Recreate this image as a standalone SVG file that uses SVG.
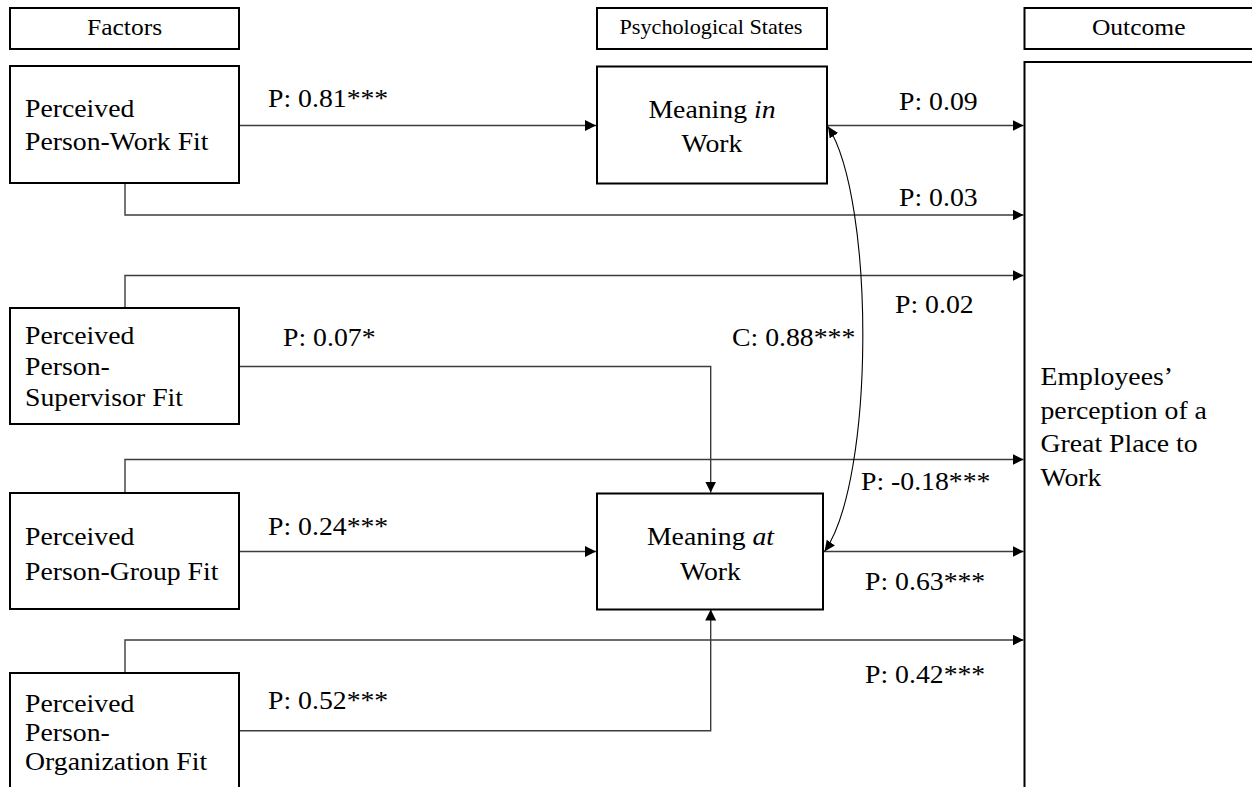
<svg xmlns="http://www.w3.org/2000/svg" width="1252" height="787" viewBox="0 0 1252 787">
  <style>
    .box { fill: #ffffff; stroke: #000000; stroke-width: 2; }
    .t { font-family: "Liberation Serif", "Times New Roman", serif; font-size: 25px; fill: #000000; }
    .hdr { font-family: "Liberation Serif", "Times New Roman", serif; font-size: 23px; fill: #000000; text-anchor: middle; }
    .mid { text-anchor: middle; }
    .edge { fill: none; stroke: #3c3c3c; stroke-width: 1.4; }
    .corr { fill: none; stroke: #000000; stroke-width: 1.1; }
  </style>
  <defs>
    <marker id="arrow" markerUnits="userSpaceOnUse" markerWidth="12" markerHeight="12" refX="11" refY="5.5" orient="auto">
      <path d="M0,0 L11,5.5 L0,11 Z" fill="#000000"/>
    </marker>
    <marker id="arrow2" markerUnits="userSpaceOnUse" markerWidth="12" markerHeight="12" refX="11" refY="5" orient="auto-start-reverse">
      <path d="M0,0 L11,5 L0,10 Z" fill="#000000"/>
    </marker>
  </defs>

  <rect width="1252" height="787" fill="#ffffff"/>

  <!-- column headers -->
  <g id="hdr-factors">
    <rect class="box" x="10" y="8" width="229" height="41"/>
    <text class="hdr" transform="translate(124.5 35) scale(1.11 1)">Factors</text>
  </g>
  <g id="hdr-states">
    <rect class="box" x="597" y="8" width="230" height="41"/>
    <text class="hdr" style="font-size:20px" transform="translate(711 34) scale(1.11 1)">Psychological States</text>
  </g>
  <g id="hdr-outcome">
    <rect class="box" x="1024.5" y="8" width="240" height="41"/>
    <text class="hdr" transform="translate(1138.7 35) scale(1.11 1)">Outcome</text>
  </g>

  <!-- connectors -->
  <g id="connectors">
    <!-- Person-Work Fit -->
    <path class="edge" d="M239,125.5 H596" marker-end="url(#arrow)"/>
    <path class="edge" d="M125,183 V215 H1023.5" marker-end="url(#arrow)"/>
    <!-- Meaning in Work -->
    <path class="edge" d="M827,125.5 H1023.5" marker-end="url(#arrow)"/>
    <!-- Person-Supervisor Fit -->
    <path class="edge" d="M125,308 V275.5 H1023.5" marker-end="url(#arrow)"/>
    <path class="edge" d="M239,366.5 H710.7 V492.5" marker-end="url(#arrow)"/>
    <!-- Person-Group Fit -->
    <path class="edge" d="M125,493 V459.5 H1023.5" marker-end="url(#arrow)"/>
    <path class="edge" d="M239,551.5 H596" marker-end="url(#arrow)"/>
    <!-- Meaning at Work -->
    <path class="edge" d="M823,551.5 H1023.5" marker-end="url(#arrow)"/>
    <!-- Person-Organization Fit -->
    <path class="edge" d="M125,673 V640 H1023.5" marker-end="url(#arrow)"/>
    <path class="edge" d="M239,730.7 H710.7 V609.5" marker-end="url(#arrow)"/>
    <!-- correlation between the two states -->
    <path class="corr" d="M828,126.5 C875,200 875,480 824.5,551.5" marker-start="url(#arrow2)" marker-end="url(#arrow2)"/>

    <!-- path coefficients -->
    <text class="t" transform="translate(268 107) scale(1.11 1)">P: 0.81***</text>
    <text class="t" transform="translate(899 110) scale(1.11 1)">P: 0.09</text>
    <text class="t" transform="translate(899 206) scale(1.11 1)">P: 0.03</text>
    <text class="t" transform="translate(895 312.5) scale(1.11 1)">P: 0.02</text>
    <text class="t" transform="translate(283 346) scale(1.11 1)">P: 0.07*</text>
    <text class="t" transform="translate(732 346) scale(1.11 1)">C: 0.88***</text>
    <text class="t" transform="translate(861 490) scale(1.11 1)">P: -0.18***</text>
    <text class="t" transform="translate(268 535) scale(1.11 1)">P: 0.24***</text>
    <text class="t" transform="translate(865 590) scale(1.11 1)">P: 0.63***</text>
    <text class="t" transform="translate(865 682.5) scale(1.11 1)">P: 0.42***</text>
    <text class="t" transform="translate(268 709) scale(1.11 1)">P: 0.52***</text>
  </g>

  <!-- factor nodes -->
  <g id="node-work-fit">
    <rect class="box" x="10" y="66" width="229" height="117"/>
    <text class="t" transform="translate(25 117) scale(1.11 1)">Perceived</text>
    <text class="t" transform="translate(25 150) scale(1.11 1)">Person-Work Fit</text>
  </g>
  <g id="node-supervisor-fit">
    <rect class="box" x="10" y="308" width="229" height="116"/>
    <text class="t" transform="translate(25 344) scale(1.11 1)">Perceived</text>
    <text class="t" transform="translate(25 375) scale(1.11 1)">Person-</text>
    <text class="t" transform="translate(25 406) scale(1.11 1)">Supervisor Fit</text>
  </g>
  <g id="node-group-fit">
    <rect class="box" x="10" y="493" width="229" height="116"/>
    <text class="t" transform="translate(25 545) scale(1.11 1)">Perceived</text>
    <text class="t" transform="translate(25 580) scale(1.11 1)">Person-Group Fit</text>
  </g>
  <g id="node-organization-fit">
    <rect class="box" x="10" y="673" width="229" height="130"/>
    <text class="t" transform="translate(25 712) scale(1.11 1)">Perceived</text>
    <text class="t" transform="translate(25 741) scale(1.11 1)">Person-</text>
    <text class="t" transform="translate(25 770) scale(1.11 1)">Organization Fit</text>
  </g>

  <!-- psychological states -->
  <g id="node-meaning-in-work">
    <rect class="box" x="597" y="66.5" width="230" height="117"/>
    <text class="t mid" transform="translate(712 118) scale(1.11 1)">Meaning <tspan font-style="italic">in</tspan></text>
    <text class="t mid" transform="translate(712 152) scale(1.11 1)">Work</text>
  </g>
  <g id="node-meaning-at-work">
    <rect class="box" x="597" y="493.5" width="226" height="116"/>
    <text class="t mid" transform="translate(710.5 545) scale(1.11 1)">Meaning <tspan font-style="italic">at</tspan></text>
    <text class="t mid" transform="translate(710.5 580) scale(1.11 1)">Work</text>
  </g>

  <!-- outcome -->
  <g id="node-outcome">
    <rect class="box" x="1024.5" y="62" width="240" height="740"/>
    <text class="t" transform="translate(1040.5 385) scale(1.11 1)">Employees’</text>
    <text class="t" transform="translate(1040.5 419) scale(1.11 1)">perception of a</text>
    <text class="t" transform="translate(1040.5 452) scale(1.11 1)">Great Place to</text>
    <text class="t" transform="translate(1040.5 486) scale(1.11 1)">Work</text>
  </g>
</svg>
